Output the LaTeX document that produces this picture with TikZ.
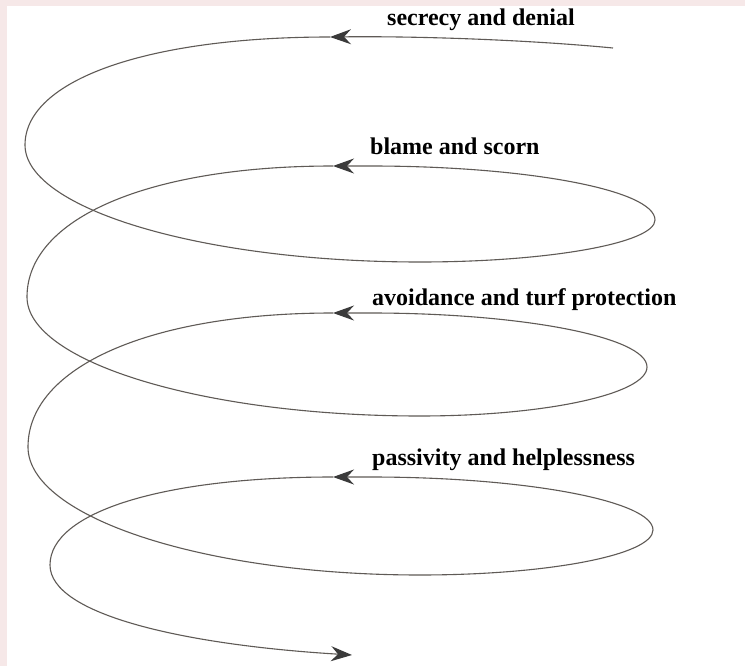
\documentclass[tikz,border=0pt]{standalone}
\usepackage{fontspec}
\setmainfont{Liberation Serif}
\usetikzlibrary{arrows.meta}

\definecolor{framepink}{RGB}{246,232,232}
\definecolor{spiralgray}{RGB}{95,90,86}
\definecolor{tipgray}{RGB}{58,58,58}

\begin{document}
\begin{tikzpicture}[x=1pt,y=-1pt,line join=round,
  >={Stealth[length=21pt,width=15pt,inset=7pt,color=tipgray,fill=tipgray]},
  spiral/.style={draw=spiralgray,line width=1.1pt},
  looptext/.style={anchor=base west,inner sep=0pt,font=\fontsize{24}{24}\selectfont\bfseries}]
  \useasboundingbox (0,0) rectangle (745,666);
  \fill[framepink] (0,0) rectangle (745,666);
  \fill[white] (7,6) rectangle (745,666);

  \coordinate (start) at (613,48);
  \coordinate (tip1) at (330,37);

  \coordinate (left1) at (25,145);
  \coordinate (low1) at (420,262);
  \coordinate (right1) at (655,220);
  \coordinate (top2) at (370,166);
  \coordinate (tip2) at (333,166);

  \coordinate (left2) at (27,297);
  \coordinate (low2) at (420,416);
  \coordinate (right2) at (647,367);
  \coordinate (top3) at (370,313);
  \coordinate (tip3) at (333,313);

  \coordinate (left3) at (28,447);
  \coordinate (low3) at (420,575);
  \coordinate (right3) at (653,530);
  \coordinate (top4) at (370,477);
  \coordinate (tip4) at (333,477);

  \coordinate (left4) at (50,565);
  \coordinate (stop) at (352,655);

  % outer turn
  \draw[spiral,->] (start) .. controls +(-83,-8) and +(90,-1) .. (tip1);
  \draw[spiral,->] (tip1) .. controls +(-183,0) and +(0,-65) .. (left1)
    .. controls +(0,64) and +(-217,0) .. (low1)
    .. controls +(129,0) and +(0,23) .. (right1)
    .. controls +(0,-30) and +(157,0) .. (top2) -- (tip2);
  \draw[spiral,->] (tip2) .. controls +(-184,0) and +(0,-79) .. (left2)
    .. controls +(0,65) and +(-216,0) .. (low2)
    .. controls +(125,0) and +(0,27) .. (right2)
    .. controls +(0,-30) and +(152,0) .. (top3) -- (tip3);
  \draw[spiral,->] (tip3) .. controls +(-183,0) and +(0,-80) .. (left3)
    .. controls +(0,70) and +(-216,0) .. (low3)
    .. controls +(128,0) and +(0,25) .. (right3)
    .. controls +(0,-29) and +(156,0) .. (top4) -- (tip4);
  % way out
  \draw[spiral,->] (tip4) .. controls +(-170,0) and +(0,-53) .. (left4)
    .. controls +(0,50) and +(-166,-10) .. (stop);

  \node[looptext] (secrecy) at (387,26) {secrecy and denial};
  \node[looptext] (blame) at (370,155) {blame and scorn};
  \node[looptext] (avoidance) at (372,305) {avoidance and turf protection};
  \node[looptext] (passivity) at (372,465) {passivity and helplessness};
\end{tikzpicture}
\end{document}
